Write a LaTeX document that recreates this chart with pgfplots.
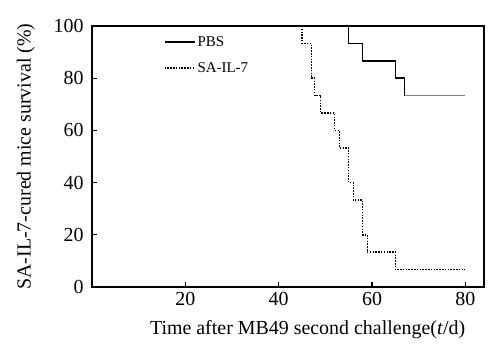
\documentclass[border=0pt]{standalone}
\usepackage{fontspec}
\setmainfont{Liberation Serif}
\usepackage{pgfplots}
\pgfplotsset{compat=1.18}
\begin{document}
\begin{tikzpicture}
\begin{axis}[
  scale only axis,
  width=392bp, height=261bp,
  xmin=0, xmax=84, ymin=0, ymax=100,
  xtick={20,40,60,80}, ytick={0,20,40,60,80,100},
  tick align=inside,
  xtick pos=bottom, ytick pos=left,
  major tick length=5bp,
  axis line style={line width=1.3bp},
  tick style={line width=1.2bp, black},
  /pgf/number format/assume math mode=true,
  tick label style={font=\fontsize{20}{22}\selectfont},
  xticklabel style={yshift=-2bp},
  yticklabel style={xshift=-5bp},
  label style={font=\fontsize{20}{22}\selectfont},
  xlabel={Time after MB49 second challenge(\textit{t}/d)},
  ylabel={SA-IL-7-cured mice survival (\%)},
  xlabel style={at={(ticklabel cs:0.55)}, yshift=-8bp},
  ylabel style={yshift=12bp},
  legend style={draw=none, fill=none, at={(0.18,0.972)}, anchor=north west,
    font=\fontsize{15}{17}\selectfont, row sep=10.5bp, inner sep=1bp},
  legend cell align=left,
  legend image code/.code={\draw[#1,line width=1.8bp] (0bp,0bp) -- (30bp,0bp);},
]
\addplot[black, line width=1.6bp] coordinates {
 (55,100) (55,93.33) (58,93.33) (58,86.67) (65,86.67) (65,80) (67,80) (67,73.33)
};
\addlegendentry{PBS}
\addplot[black, line width=1.5bp, dash pattern=on 1.5bp off 1.3bp] coordinates {
 (45,100) (45,93.33) (47,93.33) (47,80) (47.7,80) (47.7,73.33) (49,73.33) (49,66.67)
 (52,66.67) (52,60) (53,60) (53,53.33) (55,53.33) (55,40) (56,40) (56,33.33)
 (58,33.33) (58,20) (59,20) (59,13.33) (65,13.33) (65,6.67) (80,6.67)
};
\addlegendentry{SA-IL-7}
\addplot[gray, line width=1bp, forget plot] coordinates {(67,73.33) (80,73.33)};
\end{axis}
\path ([shift={(-92bp,-60bp)}]current axis.south west) rectangle ([shift={(7bp,26bp)}]current axis.north east);
\end{tikzpicture}
\end{document}
